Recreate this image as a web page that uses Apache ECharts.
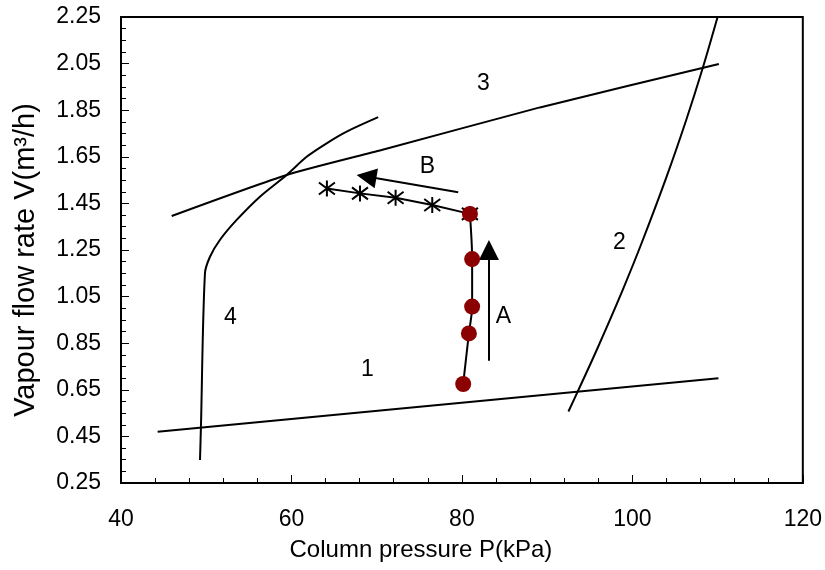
<!DOCTYPE html>
<html>
<head>
<meta charset="utf-8">
<script src="https://cdn.jsdelivr.net/npm/echarts@6/dist/echarts.min.js"></script>
<style>html,body{margin:0;padding:0;background:#fff}#c{width:825px;height:570px}</style>
</head>
<body>
<div id="c"></div>
<script>
// Boundary line 1 (straight)
const line1 = [[44.3, 0.47], [110.1, 0.70]];
// Boundary line 3
const line3 = [[45.95, 1.396], [59.44, 1.572], [70.58, 1.679], [89.15, 1.862], [110.15, 2.048]];
// Boundary curve 2
const line2 = [[92.5, 0.557], [93.67, 0.649], [95.13, 0.765], [96.7, 0.894], [98.86, 1.078], [101.09, 1.28], [104.02, 1.565], [106.32, 1.808], [108.25, 2.03], [110.0, 2.25]];
// Boundary curve 4
const line4 = [[49.27, 0.349], [49.38, 0.492], [49.85, 1.15], [50.44, 1.221], [51.6, 1.293], [53.57, 1.379], [56.3, 1.479], [59.44, 1.572], [61.78, 1.65], [64.13, 1.708], [66.48, 1.758], [70.18, 1.82]];
// Operating path A (circles)
const pathA = [[80.15, 0.675], [80.82, 0.892], [81.2, 1.007], [81.2, 1.211], [80.94, 1.405]];
// Operating path B (asterisks)
const pathB = [[80.94, 1.405], [76.52, 1.443], [72.22, 1.474], [68.04, 1.493], [64.16, 1.514]];
// Arrows [start, head]
const arrowA = [[83.17, 0.775], [83.17, 1.25]];
const arrowB = [[79.57, 1.498], [68.8, 1.565]];
// Region labels
const labelNames = ['1', '2', '3', '4', 'A', 'B'];
const labelPos = [[68.97, 0.735], [98.53, 1.28], [82.58, 1.962], [52.9, 0.958], [84.93, 0.962], [76.01, 1.606]];
// Axis settings
const xMin = 40, xMax = 120, xStep = 20;
const yMin = 0.25, yMax = 2.25, yStep = 0.2;

const FONT = 'Liberation Sans, Arial, sans-serif';
const chart = echarts.init(document.getElementById('c'), null, {renderer: 'canvas'});
const lineStyle = {color: '#000', width: 2};
const asterisk = 'path://M0,-10L0,10M-7.5,-7.5L7.5,7.5M-7.5,7.5L7.5,-7.5';

function plain(data, smooth) {
  return {type: 'line', data: data, showSymbol: false, symbol: 'none', smooth: smooth,
    lineStyle: lineStyle, silent: true, z: 2};
}
function arrow(seg, size) {
  return {type: 'lines', coordinateSystem: 'cartesian2d', polyline: false,
    symbol: ['none', 'triangle'], symbolSize: size,
    lineStyle: {color: '#000', width: 2, opacity: 1}, itemStyle: {color: '#000'},
    data: [{coords: seg}], z: 3, silent: true};
}

chart.setOption({
  animation: false,
  backgroundColor: '#fff',
  grid: {left: 121, right: 22, top: 17, bottom: 87, show: true, borderColor: '#000', borderWidth: 2, backgroundColor: 'transparent'},
  xAxis: {
    type: 'value', min: xMin, max: xMax, interval: xStep,
    name: 'Column pressure P(kPa)', nameLocation: 'middle', nameGap: 55,
    nameTextStyle: {fontFamily: FONT, fontSize: 24, color: '#000', padding: [0, 82, 0, 0]},
    axisLine: {show: true, lineStyle: {color: '#000', width: 2}},
    axisTick: {show: true, inside: true, length: 8, lineStyle: {color: '#000', width: 1}},
    minorTick: {show: true, splitNumber: 5, length: 5, lineStyle: {color: '#000', width: 1}},
    axisLabel: {fontFamily: FONT, fontSize: 23, color: '#000', margin: 25},
    splitLine: {show: false}
  },
  yAxis: {
    type: 'value', min: yMin, max: yMax, interval: yStep,
    name: 'Vapour flow rate V(m\u00B3/h)', nameLocation: 'middle', nameGap: 81,
    nameTextStyle: {fontFamily: FONT, fontSize: 29, color: '#000', padding: [0, 20, 0, 0]},
    axisLine: {show: true, lineStyle: {color: '#000', width: 2}},
    axisTick: {show: true, inside: true, length: 8, lineStyle: {color: '#000', width: 1}},
    minorTick: {show: true, splitNumber: 4, length: 5, lineStyle: {color: '#000', width: 1}},
    axisLabel: {fontFamily: FONT, fontSize: 23, color: '#000', margin: 20,
      formatter: function (v) { return v.toFixed(2); }},
    splitLine: {show: false}
  },
  series: [
    plain(line1, false),
    plain(line3, 0.2),
    plain(line2, 0.3),
    plain(line4, 0.3),
    {type: 'line', data: pathB, symbol: asterisk, symbolSize: 16, showAllSymbol: true,
      lineStyle: lineStyle, itemStyle: {color: 'none', borderColor: '#000', borderWidth: 2}, z: 3, silent: true},
    {type: 'line', data: pathA, symbol: 'circle', symbolSize: 16, smooth: 0.3, showAllSymbol: true,
      lineStyle: lineStyle, itemStyle: {color: '#8B0000', borderWidth: 0}, z: 4, silent: true},
    arrow(arrowA, [18, 20]),
    arrow(arrowB, [18, 20]),
    {type: 'scatter', data: labelPos.map((p, i) => ({name: labelNames[i], value: p})),
      symbolSize: 1, itemStyle: {color: '#fff', opacity: 1}, z: 1, silent: true,
      label: {show: true, position: [0, 0], align: 'center', verticalAlign: 'middle', formatter: '{b}',
        fontFamily: FONT, fontSize: 23, color: '#000', textBorderWidth: 0, opacity: 1}}
  ]
});
</script>
</body>
</html>
